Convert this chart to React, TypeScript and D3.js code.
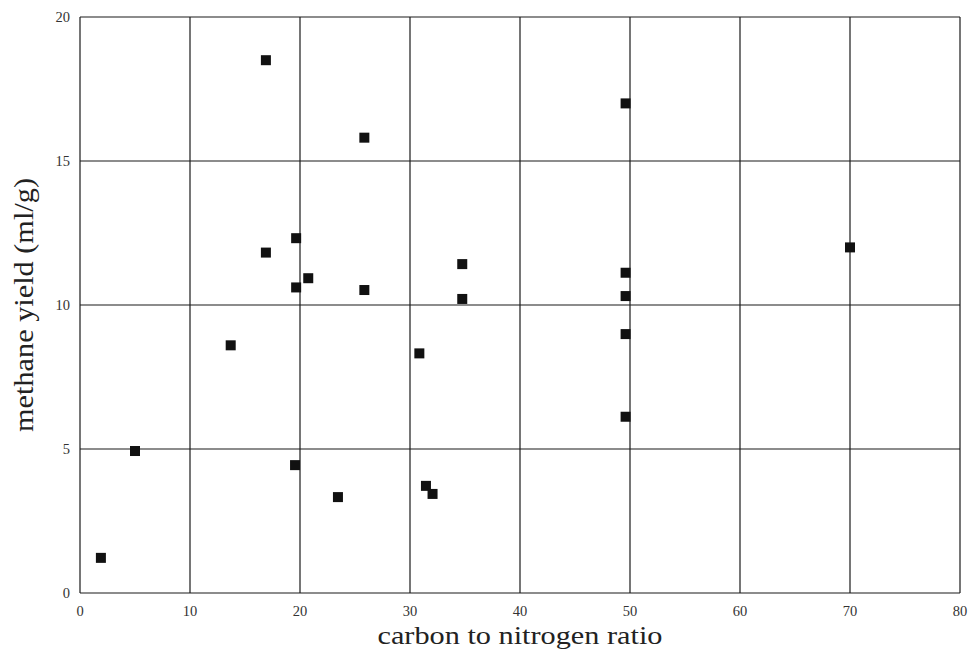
import React from "react";
import * as d3 from "d3";

const xValues = [1.9, 5.0, 13.7, 16.9, 25.85, 16.9, 19.65, 19.65, 20.75, 25.85, 34.75, 34.75, 30.85, 31.45, 32.05, 19.55, 23.45, 49.6, 49.6, 49.6, 49.6, 49.6, 70.0];
const yValues = [1.22, 4.93, 8.6, 18.5, 15.81, 11.82, 12.32, 10.61, 10.93, 10.52, 11.42, 10.21, 8.32, 3.72, 3.44, 4.44, 3.33, 17.0, 11.12, 10.31, 8.99, 6.12, 12.0];
const xTicks = [0, 10, 20, 30, 40, 50, 60, 70, 80];
const yTicks = [0, 5, 10, 15, 20];
const xLabel = "carbon to nitrogen ratio";
const yLabel = "methane yield (ml/g)";

export default function App() {
  const W = 969, H = 650;
  const left = 80, right = 960, top = 17, bottom = 593;
  const x = d3.scaleLinear().domain([0, 80]).range([left, right]);
  const y = d3.scaleLinear().domain([0, 20]).range([bottom, top]);
  const font = "'Liberation Serif', 'DejaVu Serif', serif";
  const s = 10;
  return (
    <svg width={W} height={H} style={{ position: "absolute", left: 0, top: 0, background: "#fff" }}>
      <rect x={0} y={0} width={W} height={H} fill="#fff" />
      {xTicks.map((t) => (
        <line key={"gx" + t} x1={x(t)} x2={x(t)} y1={top} y2={bottom} stroke="#1a1a1a" strokeWidth={1.2} />
      ))}
      {yTicks.map((t) => (
        <line key={"gy" + t} x1={left} x2={right} y1={y(t)} y2={y(t)} stroke="#1a1a1a" strokeWidth={1.2} />
      ))}
      {xTicks.map((t) => (
        <text key={"tx" + t} x={x(t)} y={616} textAnchor="middle" fontFamily={font} fontSize={14.5} fill="#333">
          {t}
        </text>
      ))}
      {yTicks.map((t) => (
        <text key={"ty" + t} x={70} y={y(t) + 5} textAnchor="end" fontFamily={font} fontSize={14.5} fill="#333">
          {t}
        </text>
      ))}
      {xValues.map((xv, i) => (
        <rect key={"p" + i} x={x(xv) - s / 2} y={y(yValues[i]) - s / 2} width={s} height={s} fill="#111" />
      ))}
      <text x={520} y={644} textAnchor="middle" fontFamily={font} fontSize={26} fill="#222" textLength={285} lengthAdjust="spacingAndGlyphs">
        {xLabel}
      </text>
      <text transform={`translate(33, 305) rotate(-90)`} textAnchor="middle" fontFamily={font} fontSize={28} fill="#222" textLength={254} lengthAdjust="spacingAndGlyphs">
        {yLabel}
      </text>
    </svg>
  );
}
